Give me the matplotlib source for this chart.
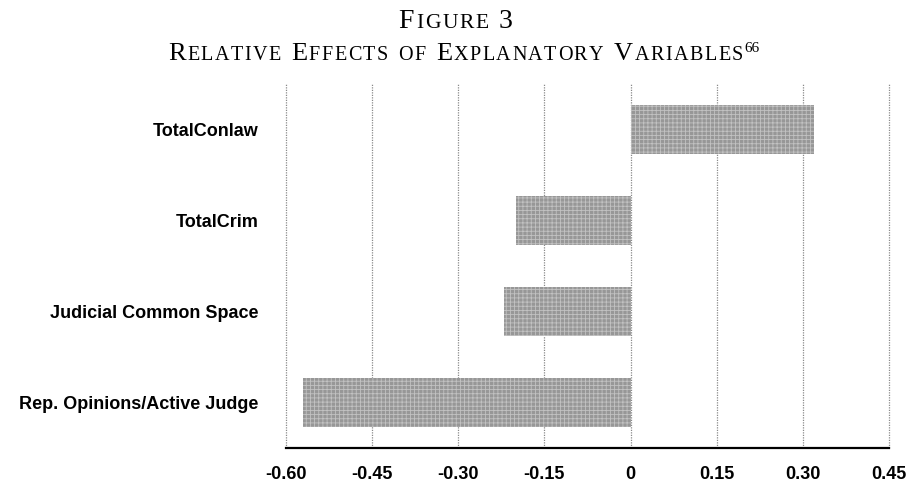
import matplotlib
matplotlib.use("Agg")
import matplotlib.pyplot as plt
from matplotlib.transforms import IdentityTransform

# ---- data ----
categories = ["TotalConlaw", "TotalCrim", "Judicial Common Space",
              "Rep. Opinions/Active Judge"]
effects = [0.32, -0.20, -0.22, -0.57]
xticks = [-0.60, -0.45, -0.30, -0.15, 0.0, 0.15, 0.30, 0.45]
xtick_labels = ["-0.60", "-0.45", "-0.30", "-0.15", "0", "0.15", "0.30", "0.45"]
title_line1 = "Figure 3"
title_line2 = "Relative Effects of Explanatory Variables"
footnote = "66"

W, H = 911, 483
plt.rcParams["hatch.linewidth"] = 0.6
fig = plt.figure(figsize=(W / 100, H / 100), dpi=100)
fig.patch.set_facecolor("white")

ax = fig.add_axes([286 / W, 35 / H, (889 - 286) / W, (448 - 84) / H])
ypos = list(range(len(categories)))
ax.barh(ypos, effects, height=0.53, color="#979797", edgecolor="#c2c2c2",
        hatch="++++", linewidth=0, zorder=2)
ax.set_ylim(len(categories) - 0.5, -0.5)
ax.set_xlim(xticks[0], xticks[-1])
ax.set_xticks(xticks)
ax.set_xticklabels(xtick_labels)
ax.set_yticks(ypos)
ax.set_yticklabels(categories)
for lab in ax.get_xticklabels() + ax.get_yticklabels():
    lab.set_fontfamily("Liberation Sans")
    lab.set_fontweight("bold")
    lab.set_fontsize(13)
ax.tick_params(axis="x", length=0, pad=13)
ax.tick_params(axis="y", length=0, pad=20)
for s in ["top", "left", "right"]:
    ax.spines[s].set_visible(False)
ax.spines["bottom"].set_linewidth(1.6)
ax.spines["bottom"].set_color("black")
ax.grid(axis="x", color="#8a8a8a", linestyle=(0, (1, 1)), linewidth=0.9, zorder=0)
for gl in ax.get_xgridlines():
    gl.set_clip_on(False)
ax.set_axisbelow(True)

# ---- small caps title ----
renderer = fig.canvas.get_renderer()


def small_caps_line(text, y_base, big, small, spacing, word_gap):
    arts = []
    x = 0.0
    for wi, word in enumerate(text.split(" ")):
        if wi > 0:
            x += word_gap
        for ch in word:
            size = small if ch.islower() else big
            t = fig.text(x, y_base, ch.upper(), fontsize=size,
                         family="Liberation Serif", va="baseline", ha="left",
                         transform=IdentityTransform(), color="black",
                         fontweight="normal")
            w = t.get_window_extent(renderer).width
            arts.append(t)
            x += w + spacing
    total = x - spacing
    off = (W - total) / 2
    for t in arts:
        px, py = t.get_position()
        t.set_position((px + off, py))
    return off + total


small_caps_line(title_line1, H - 28, 20, 15.5, 1.8, 8)
xend = small_caps_line(title_line2, H - 60, 19, 14.5, 1.5, 9)
fig.text(xend + 1, H - 60 + 8, footnote, fontsize=11, family="Liberation Serif",
         va="baseline", ha="left", transform=IdentityTransform(), color="black")

fig.savefig("out.png", dpi=100)
